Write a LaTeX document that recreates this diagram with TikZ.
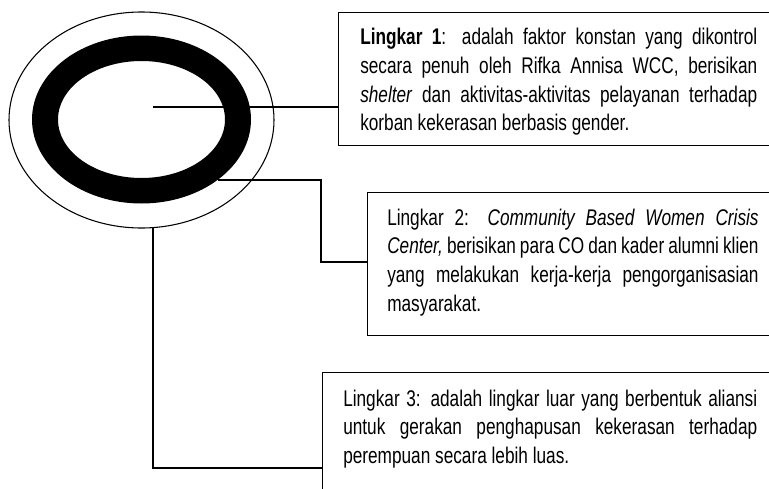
\documentclass[tikz,border=0pt]{standalone}
\usepackage{fontspec}
\setmainfont[FakeStretch=0.76]{Liberation Sans}
\usetikzlibrary{shapes.geometric}
\newcommand\nohyph{\hyphenpenalty=10000 \exhyphenpenalty=10000 \relax}
\begin{document}
\begin{tikzpicture}[x=0.75pt,y=-0.75pt,
  boxstyle/.style={draw, line width=1pt, rectangle, inner sep=0pt, anchor=north west},
  txt/.style={anchor=base west, inner sep=0pt, align=justify,
    font=\fontsize{17}{21.5}\selectfont},
  conn/.style={line width=0.8pt}]
\useasboundingbox (0,0) rectangle (769,489);
\clip (0,0) rectangle (769,489);
% circles
\node[ellipse, draw, line width=0.8pt, inner sep=0pt, minimum width=198.75pt, minimum height=162pt] (outer) at (141.5,120) {};
\fill[even odd rule] (141.5,119.5) ellipse [x radius=109.5, y radius=84]
                     (141.5,119.5) ellipse [x radius=83.5, y radius=58.5];
% boxes
\node[boxstyle, minimum width=346.5pt, minimum height=99.75pt] (box1) at (338,12) {};
\node[boxstyle, minimum width=324.75pt, minimum height=107.25pt] (box2) at (367,192) {};
\node[boxstyle, minimum width=358.5pt, minimum height=111pt] (box3) at (322,372) {};
% texts
\node[txt, text width=297.75pt] (t1) at (360,45) {\nohyph\textbf{Lingkar 1}: adalah faktor konstan yang dikontrol\linebreak
secara penuh oleh Rifka Annisa WCC, berisikan\linebreak
\textit{shelter} dan aktivitas-aktivitas pelayanan terhadap\linebreak
korban kekerasan berbasis gender.};
\node[txt, text width=278.5pt] (t2) at (387,225) {\nohyph Lingkar 2: \textit{Community Based Women Crisis}\linebreak
\textit{Center,} berisikan para CO dan kader alumni klien\linebreak
yang melakukan kerja-kerja pengorganisasian\linebreak
masyarakat.};
\node[txt, text width=310.5pt] (t3) at (343,406) {\nohyph Lingkar 3: adalah lingkar luar yang berbentuk aliansi\linebreak
untuk gerakan penghapusan kekerasan terhadap\linebreak
perempuan secara lebih luas.};
% connectors
\coordinate (s1) at (153,107);
\coordinate (s2) at (218,180);
\coordinate (k2) at (321,262);
\coordinate (s3) at (153,228);
\coordinate (k3) at (153,468);
\draw[conn] (s1) -- (s1 -| box1.west);
\draw[conn] (s2) -| (k2) -- (k2 -| box2.west);
\draw[conn] (s3) -- (k3) -- (k3 -| box3.west);
\end{tikzpicture}
\end{document}
